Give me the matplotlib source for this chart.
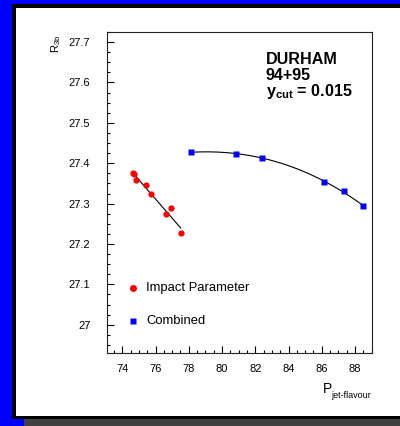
import numpy as np
import matplotlib
matplotlib.use('Agg')
import matplotlib.pyplot as plt
from matplotlib.patches import Rectangle
from matplotlib.ticker import MultipleLocator, FormatStrFormatter

plt.rcParams['font.family'] = ['Liberation Sans', 'DejaVu Sans']
plt.rcParams['mathtext.fontset'] = 'custom'
plt.rcParams['mathtext.rm'] = 'Liberation Sans'
plt.rcParams['mathtext.bf'] = 'Liberation Sans:bold'
plt.rcParams['mathtext.it'] = 'Liberation Sans:italic'
plt.rcParams['mathtext.default'] = 'regular'

# Impact Parameter points
ip_x = [74.63, 74.72, 74.82, 75.43, 75.71, 76.61, 76.91, 77.51]
ip_y = [27.377, 27.373, 27.358, 27.347, 27.323, 27.274, 27.289, 27.228]

# Combined points
comb_x = [78.12, 80.82, 82.42, 86.12, 87.34, 88.46]
comb_y = [27.427, 27.424, 27.413, 27.354, 27.330, 27.295]

W, H = 400, 426
fig = plt.figure(figsize=(4, 4.26), dpi=100, facecolor='#0000ff')

# frame: shadow, black border, white panel (pixel coords from top-left)
def px_rect(x0, y0, x1, y1, color):
    fig.patches.append(Rectangle((x0 / W, 1 - y1 / H), (x1 - x0) / W, (y1 - y0) / H,
                                 transform=fig.transFigure, facecolor=color,
                                 edgecolor='none', zorder=-3))

px_rect(24, 12, 410, 430, '#404040')
px_rect(12, 4, 410, 419, 'black')
px_rect(16, 8, 410, 416, 'white')

ax = fig.add_axes([107 / W, 1 - 353 / H, (372 - 107) / W, (353 - 32) / H])
ax.set_xlim(73.08, 89.02)
ax.set_ylim(26.93, 27.725)

# fits
p1 = np.polyfit(ip_x, ip_y, 1)
xx1 = np.linspace(min(ip_x), max(ip_x), 50)
ax.plot(xx1, np.polyval(p1, xx1), color='black', lw=0.8, zorder=2)
p2 = np.polyfit(comb_x, comb_y, 3)
xx2 = np.linspace(min(comb_x), max(comb_x), 100)
ax.plot(xx2, np.polyval(p2, xx2), color='black', lw=0.8, zorder=2)

ax.plot(ip_x, ip_y, 'o', color='#ff0000', ms=4.5, mec='none', zorder=3)
ax.plot(comb_x, comb_y, 's', color='#0000ff', ms=4.3, mec='none', zorder=3)

# legend entries
ax.plot([74.62], [27.09], 'o', color='#ff0000', ms=5, mec='none', clip_on=False)
ax.plot([74.62], [27.01], 's', color='#0000ff', ms=4.5, mec='none', clip_on=False)
ax.text(75.45, 27.09, 'Impact Parameter', fontsize=9.4, va='center')
ax.text(75.45, 27.01, 'Combined', fontsize=9.4, va='center')

ax.xaxis.set_major_locator(MultipleLocator(2))
ax.xaxis.set_minor_locator(MultipleLocator(0.5))
ax.yaxis.set_major_locator(MultipleLocator(0.1))
ax.yaxis.set_minor_locator(MultipleLocator(0.025))
ax.yaxis.set_major_formatter(FormatStrFormatter('%g'))
ax.tick_params(which='both', direction='in', labelsize=8, top=False, right=False, width=0.8)
ax.tick_params(which='major', length=5, pad=8)
ax.tick_params(which='minor', length=2.5)
ax.tick_params(axis='y', pad=12)
for s in ax.spines.values():
    s.set_linewidth(0.8)
    s.set_color('#222222')

# annotation
fig.text(266 / W, 1 - 64 / H, 'DURHAM', fontsize=11.6, fontweight='bold', va='baseline')
fig.text(266 / W, 1 - 80 / H, '94+95', fontsize=11.6, fontweight='bold', va='baseline')
fig.text(266 / W, 1 - 96 / H, r'$\mathbf{y_{cut}}$ = 0.015', fontsize=11.6, fontweight='bold', va='baseline')

# axis labels
fig.text(56 / W, 1 - 44 / H, r'R$_{3b}$', fontsize=8, rotation=90, ha='center', va='center')
fig.text(323 / W, 1 - 393 / H, 'P', fontsize=10, ha='left', va='baseline')
fig.text(331 / W, 1 - 398 / H, 'jet-flavour', fontsize=6.5, ha='left', va='baseline')

fig.savefig('out.png', dpi=100, facecolor=fig.get_facecolor())
